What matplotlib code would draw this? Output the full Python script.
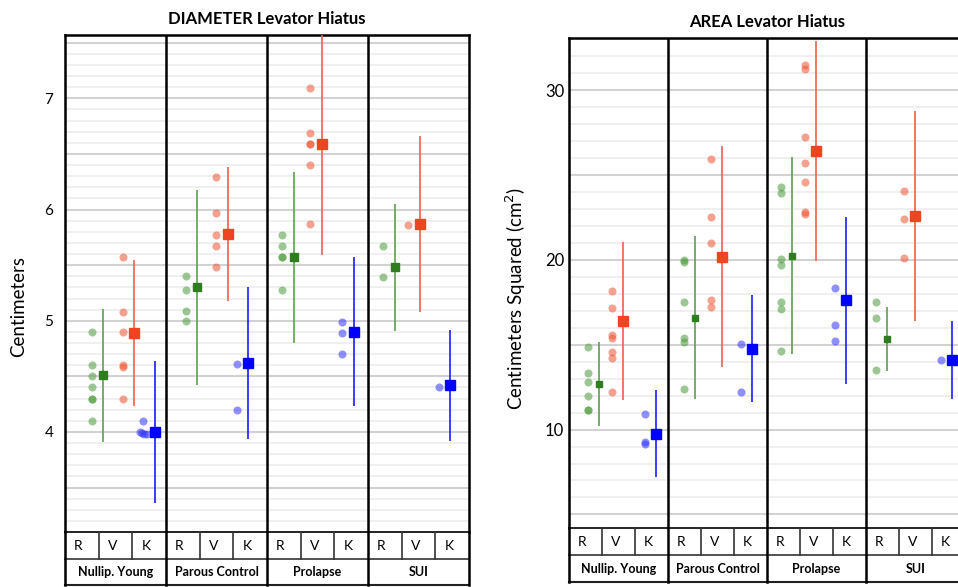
import matplotlib
matplotlib.use("Agg")
import matplotlib.pyplot as plt
from matplotlib.ticker import MultipleLocator, FuncFormatter

plt.rcParams['font.family'] = ['Lato', 'DejaVu Sans']

groups = ["Nullip. Young", "Parous Control", "Prolapse", "SUI"]
methods = ["R", "V", "K"]

# ---- DIAMETER (cm) ----
diam_R = [[4.9, 4.6, 4.5, 4.4, 4.3, 4.3, 4.1], [5.4, 5.28, 5.09, 5.0],
          [5.77, 5.67, 5.57, 5.57, 5.28], [5.67, 5.39]]
diam_V = [[5.57, 5.08, 4.9, 4.6, 4.58, 4.3], [6.29, 5.97, 5.77, 5.67, 5.48],
          [7.09, 6.69, 6.59, 6.59, 6.4, 5.87], [5.86]]
diam_K = [[4.1, 4.0, 3.99, 3.98, 3.98], [4.61, 4.2], [4.99, 4.89, 4.7], [4.4]]
diam_mean_R = [4.51, 5.30, 5.57, 5.48]
diam_mean_V = [4.89, 5.78, 6.59, 5.87]
diam_mean_K = [4.00, 4.62, 4.90, 4.42]
diam_err_R = [0.60, 0.88, 0.77, 0.57]
diam_err_V = [0.66, 0.60, 1.00, 0.79]
diam_err_K = [0.64, 0.68, 0.67, 0.50]

# ---- AREA (cm^2) ----
area_R = [[14.89, 13.35, 12.83, 11.95, 11.15, 11.15], [20.0, 19.85, 17.5, 15.4, 15.18, 12.41],
          [24.28, 23.92, 20.04, 19.68, 17.5, 17.11, 14.63], [17.5, 16.56, 13.5]]
area_V = [[18.15, 17.19, 15.6, 15.38, 14.59, 14.19, 12.24], [25.97, 22.5, 21.0, 17.61, 17.21],
          [31.5, 31.27, 27.24, 25.7, 24.59, 22.82, 22.72], [24.07, 22.38, 20.12]]
area_K = [[10.9, 9.25, 9.14], [15.03, 12.22], [18.32, 16.16, 15.22], [14.11]]
area_mean_R = [12.70, 16.60, 20.24, 15.35]
area_mean_V = [16.41, 20.18, 26.42, 22.58]
area_mean_K = [9.75, 14.76, 17.61, 14.11]
area_err_R = [2.48, 4.80, 5.80, 1.90]
area_err_V = [4.66, 6.50, 6.46, 6.20]
area_err_K = [2.56, 3.15, 4.90, 2.30]

# layout: where the dot column sits inside each group (column units, group width 3)
diam_dot_x = [[0.80, 1.72, 2.32], [0.59, 1.49, 2.11], [0.45, 1.28, 2.23], [0.45, 1.19, 2.11]]
area_dot_x = [[0.58, 1.29, 2.30], [0.48, 1.30, 2.21], [0.42, 1.15, 2.06], [0.29, 1.15, 2.27]]
diam_jitter = {(0, 2): [0.0, -0.10, -0.03, 0.04, 0.11]}
mean_shift = 0.34

dot_colors = ['#4c9a3c', '#ee5533', '#3333ff']
mean_colors = ['#2e7d1e', '#ee4422', '#0000ff']
line_colors = ['#5e9e4e', '#f0604a', '#1a1aff']


def draw_chart(ax, tax, pts, means, errs, dot_x, jitter, ylim, major, minor, step,
               title, ylabel, mean_ms, tick_pad, ylab_xy, tick_fs):
    for g in range(4):
        for m in range(3):
            x0 = g * 3 + dot_x[g][m]
            vals = pts[m][g]
            jit = jitter.get((g, m), [0.0] * len(vals))
            ax.plot([x0 + j for j in jit], vals, 'o', ms=5.8, color=dot_colors[m],
                    alpha=0.55, mec='none', zorder=3)
            ax.errorbar(x0 + mean_shift, means[m][g], yerr=errs[m][g], fmt='s',
                        ms=mean_ms[m], color=mean_colors[m], ecolor=line_colors[m],
                        elinewidth=1.2, capsize=0, zorder=4)
    ax.set_xlim(0, 12)
    ax.set_ylim(*ylim)
    ax.yaxis.set_major_locator(MultipleLocator(major))
    ax.yaxis.set_minor_locator(MultipleLocator(minor))
    ax.yaxis.set_major_formatter(FuncFormatter(
        lambda v, p: f"{v:.0f}" if abs(v / step - round(v / step)) < 1e-6 else ""))
    ax.grid(which='major', axis='y', color='#d2d2d2', lw=1.5)
    ax.grid(which='minor', axis='y', color='#ebebeb', lw=1.1)
    ax.set_axisbelow(True)
    ax.set_xticks([])
    ax.tick_params(axis='y', which='both', length=0, pad=tick_pad, labelsize=tick_fs)
    for b in [3, 6, 9]:
        ax.axvline(b, color='black', lw=1.8, zorder=2)
    for s in ax.spines.values():
        s.set_color('black')
        s.set_linewidth(1.8)
    ax.spines['bottom'].set_linewidth(1.2)
    ax.set_title(title, fontsize=12, fontweight='bold', pad=8)
    ax.set_ylabel(ylabel, fontsize=13.5)
    ax.yaxis.set_label_coords(*ylab_xy)

    tax.set_xlim(0, 12)
    tax.set_ylim(0, 2)
    tax.axis('off')
    tax.plot([0, 12], [1, 1], color='#333333', lw=1.2, clip_on=False)
    tax.plot([0, 12], [0, 0], color='#222222', lw=1.5, clip_on=False)
    for c in range(13):
        if c % 3 == 0:
            tax.plot([c, c], [0, 2], color='black', lw=1.8, clip_on=False)
        else:
            tax.plot([c, c], [1, 2], color='#333333', lw=1.2, clip_on=False)
    for g in range(4):
        for m in range(3):
            tax.text(g * 3 + m + 0.27, 1.48, methods[m], ha='left', va='center', fontsize=10)
        tax.text(g * 3 + 1.5, 0.48, groups[g], ha='center', va='center',
                 fontsize=9, fontweight='bold')


fig = plt.figure(figsize=(9.58, 5.87), dpi=100)
ax1 = fig.add_axes([65 / 958, 1 - 532 / 587, 404 / 958, 497 / 587])
tax1 = fig.add_axes([65 / 958, 1 - 585 / 587, 404 / 958, 53 / 587])
ax2 = fig.add_axes([569 / 958, 1 - 528 / 587, 396 / 958, 490 / 587])
tax2 = fig.add_axes([569 / 958, 1 - 582 / 587, 396 / 958, 54 / 587])

draw_chart(ax1, tax1, [diam_R, diam_V, diam_K],
           [diam_mean_R, diam_mean_V, diam_mean_K],
           [diam_err_R, diam_err_V, diam_err_K],
           diam_dot_x, diam_jitter, (3.1, 7.57), 0.5, 0.1, 1,
           "DIAMETER Levator Hiatus", "Centimeters", [5.5, 6.5, 6.5], 8.5,
           (-0.094, 0.453), 11)
draw_chart(ax2, tax2, [area_R, area_V, area_K],
           [area_mean_R, area_mean_V, area_mean_K],
           [area_err_R, area_err_V, area_err_K],
           area_dot_x, {}, (4.2, 33.07), 5, 1, 10,
           "AREA Levator Hiatus", "Centimeters Squared (cm$^2$)", [5.0, 7.0, 7.0], 3.5,
           (-0.104, 0.469), 12)

fig.savefig("out.png", dpi=100)
